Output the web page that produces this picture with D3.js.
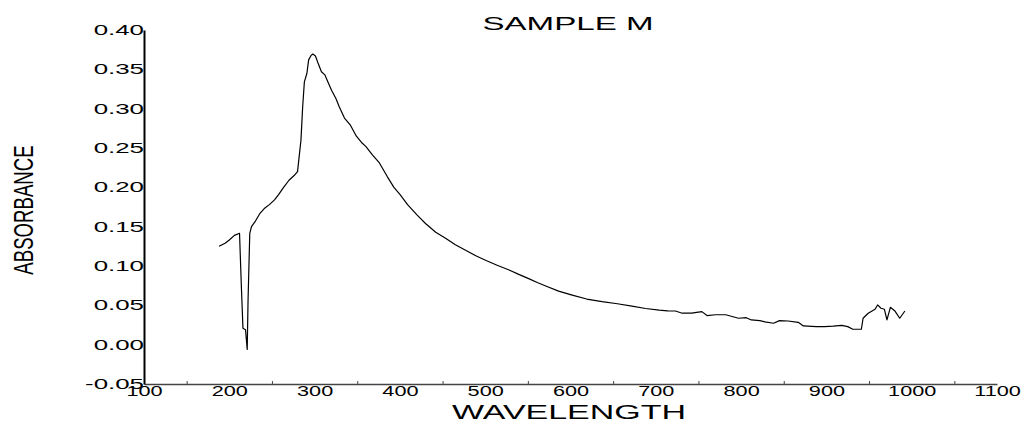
<!DOCTYPE html>
<html>
<head>
<meta charset="utf-8">
<script src="https://cdn.jsdelivr.net/npm/d3@7"></script>
<style>
  body { margin: 0; background: #fff; }
  text { font-family: "Liberation Sans", Arial, sans-serif; fill: #000; }
</style>
</head>
<body>
<svg id="chart" width="1023" height="425"></svg>
<script>
// spectrum (nm, absorbance)
var wavelength = [188, 195, 200, 206, 212, 214, 216, 219, 221, 222, 224, 226, 230, 236, 241, 247, 253, 258, 263, 270,
  276, 280, 284, 286, 288, 291, 293, 296, 298, 301, 304, 308, 312, 316, 320, 325, 329, 335, 342, 349,
  355, 360, 368, 376, 385, 393, 400, 409, 420, 430, 442, 454, 465, 477, 489, 501, 514, 528, 540, 551,
  561, 571, 586, 602, 619, 637, 655, 672, 688, 704, 714, 723, 731, 742, 754, 760, 770, 782, 797, 806,
  812, 822, 828, 838, 845, 855, 867, 873, 888, 898, 908, 918, 925, 931, 941, 943, 949, 957, 960, 964,
  968, 971, 975, 980, 986, 992];
var absorbance = [0.125, 0.129, 0.133, 0.139, 0.1416, 0.078, 0.021, 0.019, -0.006, 0.057, 0.1416, 0.150, 0.156, 0.167, 0.173, 0.178, 0.184, 0.191, 0.199, 0.209,
  0.215, 0.220, 0.260, 0.302, 0.334, 0.345, 0.362, 0.368, 0.3695, 0.367, 0.358, 0.347, 0.343, 0.333, 0.323, 0.313, 0.302, 0.288, 0.279, 0.265,
  0.257, 0.252, 0.241, 0.231, 0.214, 0.200, 0.191, 0.178, 0.165, 0.154, 0.143, 0.135, 0.127, 0.120, 0.113, 0.107, 0.101, 0.095, 0.089, 0.084,
  0.079, 0.0745, 0.068, 0.063, 0.058, 0.0547, 0.052, 0.049, 0.046, 0.044, 0.043, 0.0428, 0.040, 0.040, 0.042, 0.037, 0.038, 0.038, 0.0336, 0.0343,
  0.0314, 0.0305, 0.0289, 0.0272, 0.0305, 0.0301, 0.0284, 0.0238, 0.0229, 0.0229, 0.0235, 0.0246, 0.0229, 0.0196, 0.0196, 0.0336, 0.040, 0.045, 0.0505, 0.0463,
  0.045, 0.0314, 0.0475, 0.0432, 0.0336, 0.0428];

var xLabels = d3.range(100, 1101, 100);
var xMinor = d3.range(150, 1051, 100);
var yLabels = d3.range(-0.05, 0.4001, 0.05);

var svg = d3.select("#chart");

var x = d3.scaleLinear().domain([100, 1100]).range([144, 997]);
var y = d3.scaleLinear().domain([-0.05, 0.40]).range([384, 30]);

// plain hyphen for negatives, like the original
var fmtY = function (d) { return d3.format(".2f")(d).replace("\u2212", "-"); };

// x axis: line + small inward ticks at the 50s
var xAxis = svg.append("g")
    .attr("transform", "translate(0,384)")
    .call(d3.axisBottom(x).tickValues(xMinor).tickSize(-3).tickSizeOuter(0).tickFormat(""));
xAxis.select(".domain").attr("stroke", "#444").attr("stroke-width", 1.6);
xAxis.selectAll(".tick line").attr("stroke", "#444");

// x labels (wide, stretched type)
var xLab = svg.append("g")
    .attr("transform", "translate(0,384)")
    .call(d3.axisBottom(x).tickValues(xLabels).tickSize(0).tickPadding(2).tickFormat(d3.format("d")));
xLab.select(".domain").remove();
xLab.selectAll("text")
    .attr("font-size", 14)
    .attr("font-family", "Liberation Sans, Arial, sans-serif")
    .attr("transform", "scale(1.55,1)");

// y axis
var yAxis = svg.append("g")
    .attr("transform", "translate(144,0)")
    .call(d3.axisLeft(y).tickValues(yLabels).tickSize(0).tickPadding(0).tickFormat(fmtY));
yAxis.select(".domain").attr("stroke", "#000").attr("stroke-width", 2);
yAxis.selectAll("text")
    .attr("font-size", 14)
    .attr("font-family", "Liberation Sans, Arial, sans-serif")
    .attr("transform", "scale(1.85,1)");

// spectrum
var line = d3.line()
    .x(function (d, i) { return x(wavelength[i]); })
    .y(function (d) { return y(d); });

svg.append("path")
    .datum(absorbance)
    .attr("fill", "none")
    .attr("stroke", "#000")
    .attr("stroke-width", 1.2)
    .attr("stroke-linejoin", "round")
    .attr("d", line);

// titles
svg.append("text")
    .attr("transform", "translate(568,30) scale(1.84,1)")
    .attr("text-anchor", "middle")
    .attr("font-size", 18)
    .text("SAMPLE M");

svg.append("text")
    .attr("transform", "translate(569,419) scale(1.7,1)")
    .attr("text-anchor", "middle")
    .attr("font-size", 20)
    .text("WAVELENGTH");

svg.append("text")
    .attr("transform", "translate(33,210) rotate(-90) scale(0.69,1)")
    .attr("text-anchor", "middle")
    .attr("font-size", 27)
    .text("ABSORBANCE");
</script>
</body>
</html>
